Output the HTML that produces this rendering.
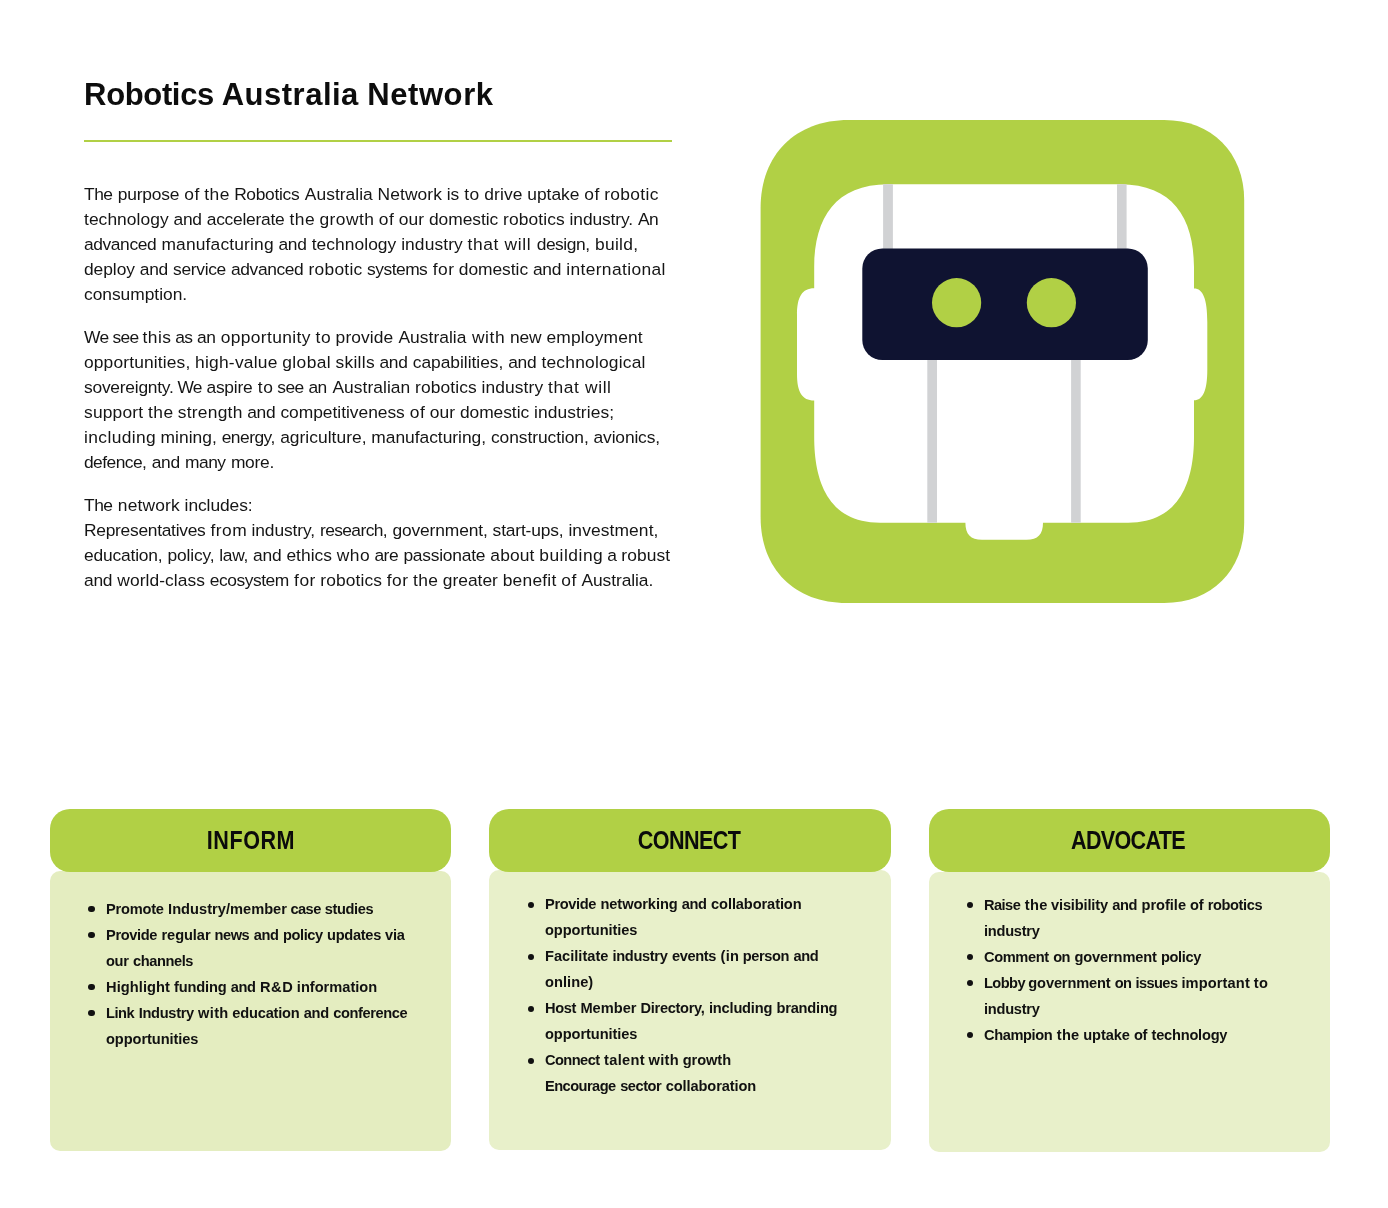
<!DOCTYPE html>
<html lang="en"><head><meta charset="utf-8"><title>Robotics Australia Network</title>
<style>
html,body{margin:0;padding:0;background:#fff}
body{width:1388px;height:1208px;position:relative;overflow:hidden;font-family:"Liberation Sans", sans-serif;color:#141414}
.l{position:absolute;white-space:nowrap;margin:0;padding:0;line-height:1;display:block;transform-origin:0 0}
h1.l{font-family:"Liberation Sans", sans-serif;font-weight:700;font-size:31px;color:#0d0d0d}
.p{font-size:17.4px;color:#151515}
.c{font-size:15.4px;font-weight:bold;color:#111}
.t{font-size:25.4px;font-weight:bold;color:#0b0b0b;text-align:center;transform-origin:50% 0}
.hd{position:absolute;height:63px;top:809px;border-radius:20px;background:#b1d045}
.bd{position:absolute;height:280px;border-radius:10px}
.b{position:absolute;width:6.2px;height:6.2px;border-radius:50%;background:#111}
ul,li{margin:0;padding:0;list-style:none}

</style></head><body>
<main style="will-change:transform">
<h1 class="l h1" id="h1" style="left:84.10px;top:78.77px"><span style="letter-spacing:-0.35px;word-spacing:-0.49px">Robotics </span><span style="letter-spacing:0.50px;word-spacing:-0.81px">Australia </span><span style="letter-spacing:0.60px">Network</span></h1>
<div style="position:absolute;left:84px;top:140px;width:588px;height:2px;background:#b1d045"></div>
<section>
<p style="margin:0">
<span class="l p" id="p0_0" style="left:84.00px;top:186.28px"><span style="letter-spacing:-0.49px;word-spacing:0.95px">The </span><span style="letter-spacing:-0.20px;word-spacing:0.40px">purpose </span><span style="letter-spacing:0.60px;word-spacing:-1.18px">of </span><span style="letter-spacing:0.45px;word-spacing:-0.94px">the </span><span style="letter-spacing:-0.31px;word-spacing:0.98px">Robotics </span><span style="letter-spacing:0.04px;word-spacing:-0.11px">Australia </span><span style="letter-spacing:0.08px;word-spacing:-0.20px">Network </span><span style="letter-spacing:-0.14px;word-spacing:0.47px">is </span><span style="letter-spacing:0.60px;word-spacing:-0.99px">to </span><span style="letter-spacing:0.14px;word-spacing:-0.33px">drive </span><span style="letter-spacing:-0.03px;word-spacing:0.06px">uptake </span><span style="letter-spacing:0.60px;word-spacing:-1.18px">of </span><span style="letter-spacing:0.33px">robotic</span></span>
<span class="l p" id="p0_1" style="left:84.00px;top:211.28px"><span style="letter-spacing:0.06px;word-spacing:-0.13px">technology </span><span style="letter-spacing:-0.28px;word-spacing:0.53px">and </span><span style="letter-spacing:-0.25px;word-spacing:0.47px">accelerate </span><span style="letter-spacing:0.46px;word-spacing:-0.94px">the </span><span style="letter-spacing:0.44px;word-spacing:-0.86px">growth </span><span style="letter-spacing:0.60px;word-spacing:-1.20px">of </span><span style="letter-spacing:0.17px;word-spacing:-0.38px">our </span><span style="letter-spacing:-0.04px;word-spacing:0.07px">domestic </span><span style="letter-spacing:0.12px;word-spacing:-0.28px">robotics </span><span style="letter-spacing:-0.13px;word-spacing:0.47px">industry. </span><span style="letter-spacing:-0.60px">An</span></span>
<span class="l p" id="p0_2" style="left:84.00px;top:236.28px"><span style="letter-spacing:-0.40px;word-spacing:0.78px">advanced </span><span style="letter-spacing:0.16px;word-spacing:-0.34px">manufacturing </span><span style="letter-spacing:-0.28px;word-spacing:0.53px">and </span><span style="letter-spacing:0.06px;word-spacing:-0.13px">technology </span><span style="letter-spacing:0.10px;word-spacing:-0.15px">industry </span><span style="letter-spacing:0.60px;word-spacing:0.16px">that </span><span style="letter-spacing:0.60px;word-spacing:0.08px">will </span><span style="letter-spacing:-0.45px;word-spacing:0.88px">design, </span><span style="letter-spacing:0.33px">build,</span></span>
<span class="l p" id="p0_3" style="left:84.00px;top:261.28px"><span style="letter-spacing:-0.05px;word-spacing:0.08px">deploy </span><span style="letter-spacing:-0.28px;word-spacing:0.53px">and </span><span style="letter-spacing:-0.32px;word-spacing:0.60px">service </span><span style="letter-spacing:-0.40px;word-spacing:0.78px">advanced </span><span style="letter-spacing:0.26px;word-spacing:-0.55px">robotic </span><span style="letter-spacing:-0.50px;word-spacing:0.96px">systems </span><span style="letter-spacing:0.51px;word-spacing:-1.03px">for </span><span style="letter-spacing:-0.04px;word-spacing:0.06px">domestic </span><span style="letter-spacing:-0.27px;word-spacing:0.52px">and </span><span style="letter-spacing:0.37px">international</span></span>
<span class="l p" id="p0_4" style="left:84.00px;top:286.28px"><span style="letter-spacing:-0.03px">consumption.</span></span>
</p>
<p style="margin:0">
<span class="l p" id="p1_0" style="left:84.00px;top:329.28px"><span style="letter-spacing:-0.60px;word-spacing:-0.41px">We </span><span style="letter-spacing:-0.60px;word-spacing:-0.29px">see </span><span style="letter-spacing:0.43px;word-spacing:-1.51px">this </span><span style="letter-spacing:-0.60px;word-spacing:0.55px">as </span><span style="letter-spacing:-0.56px;word-spacing:1.09px">an </span><span style="letter-spacing:0.37px;word-spacing:-0.53px">opportunity </span><span style="letter-spacing:0.60px;word-spacing:-1.02px">to </span><span style="letter-spacing:0.10px;word-spacing:0.16px">provide </span><span style="letter-spacing:0.04px;word-spacing:0.53px">Australia </span><span style="letter-spacing:0.60px;word-spacing:-0.59px">with </span><span style="letter-spacing:-0.15px;word-spacing:0.25px">new </span><span style="letter-spacing:0.17px">employment</span></span>
<span class="l p" id="p1_1" style="left:84.00px;top:354.28px"><span style="letter-spacing:0.14px;word-spacing:-0.29px">opportunities, </span><span style="letter-spacing:0.23px;word-spacing:-0.48px">high-value </span><span style="letter-spacing:0.41px;word-spacing:-0.83px">global </span><span style="letter-spacing:0.29px;word-spacing:-0.59px">skills </span><span style="letter-spacing:-0.28px;word-spacing:0.53px">and </span><span style="letter-spacing:-0.02px;word-spacing:0.01px">capabilities, </span><span style="letter-spacing:-0.27px;word-spacing:0.50px">and </span><span style="letter-spacing:0.21px">technological</span></span>
<span class="l p" id="p1_2" style="left:84.00px;top:379.28px"><span style="letter-spacing:-0.24px;word-spacing:-0.82px">sovereignty. </span><span style="letter-spacing:-0.60px;word-spacing:0.22px">We </span><span style="letter-spacing:-0.20px;word-spacing:0.60px">aspire </span><span style="letter-spacing:0.60px;word-spacing:-1.59px">to </span><span style="letter-spacing:-0.60px;word-spacing:0.59px">see </span><span style="letter-spacing:-0.56px;word-spacing:1.48px">an </span><span style="letter-spacing:0.05px;word-spacing:-0.15px">Australian </span><span style="letter-spacing:0.12px;word-spacing:-0.28px">robotics </span><span style="letter-spacing:0.10px;word-spacing:-0.13px">industry </span><span style="letter-spacing:0.60px;word-spacing:0.16px">that </span><span style="letter-spacing:0.60px">will</span></span>
<span class="l p" id="p1_3" style="left:84.00px;top:404.28px"><span style="letter-spacing:0.19px;word-spacing:-0.40px">support </span><span style="letter-spacing:0.46px;word-spacing:-0.97px">the </span><span style="letter-spacing:0.23px;word-spacing:-0.47px">strength </span><span style="letter-spacing:-0.28px;word-spacing:0.52px">and </span><span style="letter-spacing:-0.02px;word-spacing:0.05px">competitiveness </span><span style="letter-spacing:0.60px;word-spacing:-1.18px">of </span><span style="letter-spacing:0.16px;word-spacing:-0.36px">our </span><span style="letter-spacing:-0.04px;word-spacing:0.07px">domestic </span><span style="letter-spacing:0.07px">industries;</span></span>
<span class="l p" id="p1_4" style="left:84.00px;top:429.28px"><span style="letter-spacing:0.39px;word-spacing:-0.79px">including </span><span style="letter-spacing:0.03px;word-spacing:-0.08px">mining, </span><span style="letter-spacing:-0.51px;word-spacing:0.99px">energy, </span><span style="letter-spacing:0.03px;word-spacing:-0.07px">agriculture, </span><span style="letter-spacing:-0.02px;word-spacing:0.01px">manufacturing, </span><span style="letter-spacing:-0.06px;word-spacing:0.10px">construction, </span><span style="letter-spacing:-0.15px">avionics,</span></span>
<span class="l p" id="p1_5" style="left:84.00px;top:454.28px"><span style="letter-spacing:-0.55px;word-spacing:1.07px">defence, </span><span style="letter-spacing:-0.28px;word-spacing:0.55px">and </span><span style="letter-spacing:-0.47px;word-spacing:0.92px">many </span><span style="letter-spacing:-0.27px">more.</span></span>
</p>
<p style="margin:0">
<span class="l p" id="p2_0" style="left:84.00px;top:497.28px"><span style="letter-spacing:-0.49px;word-spacing:0.95px">The </span><span style="letter-spacing:0.18px;word-spacing:-0.38px">network </span><span style="letter-spacing:-0.07px">includes:</span></span>
<span class="l p" id="p2_1" style="left:84.00px;top:522.28px"><span style="letter-spacing:-0.28px;word-spacing:0.55px">Representatives </span><span style="letter-spacing:0.45px;word-spacing:-0.94px">from </span><span style="letter-spacing:-0.10px;word-spacing:0.15px">industry, </span><span style="letter-spacing:-0.60px;word-spacing:1.16px">research, </span><span style="letter-spacing:-0.13px;word-spacing:0.24px">government, </span><span style="letter-spacing:-0.17px;word-spacing:0.33px">start-ups, </span><span style="letter-spacing:0.11px">investment,</span></span>
<span class="l p" id="p2_2" style="left:84.00px;top:547.28px"><span style="letter-spacing:-0.18px;word-spacing:0.33px">education, </span><span style="letter-spacing:-0.15px;word-spacing:0.27px">policy, </span><span style="letter-spacing:-0.34px;word-spacing:0.65px">law, </span><span style="letter-spacing:-0.27px;word-spacing:0.50px">and </span><span style="letter-spacing:0.04px;word-spacing:-0.09px">ethics </span><span style="letter-spacing:0.41px;word-spacing:-0.83px">who </span><span style="letter-spacing:-0.48px;word-spacing:0.94px">are </span><span style="letter-spacing:-0.22px;word-spacing:0.43px">passionate </span><span style="letter-spacing:0.14px;word-spacing:-0.30px">about </span><span style="letter-spacing:0.51px;word-spacing:-1.41px">building </span><span style="letter-spacing:0.00px;word-spacing:-0.41px">a </span><span style="letter-spacing:0.11px">robust</span></span>
<span class="l p" id="p2_3" style="left:84.00px;top:572.28px"><span style="letter-spacing:-0.27px;word-spacing:0.50px">and </span><span style="letter-spacing:0.07px;word-spacing:-0.17px">world-class </span><span style="letter-spacing:-0.45px;word-spacing:0.85px">ecosystem </span><span style="letter-spacing:0.52px;word-spacing:-1.06px">for </span><span style="letter-spacing:0.12px;word-spacing:-0.26px">robotics </span><span style="letter-spacing:0.51px;word-spacing:-1.05px">for </span><span style="letter-spacing:0.46px;word-spacing:-0.95px">the </span><span style="letter-spacing:-0.01px;word-spacing:-0.01px">greater </span><span style="letter-spacing:0.24px;word-spacing:-0.47px">benefit </span><span style="letter-spacing:0.60px;word-spacing:-0.80px">of </span><span style="letter-spacing:-0.08px">Australia.</span></span>
</p>
</section>
<svg style="position:absolute;left:750px;top:110px" width="510" height="510" viewBox="750 110 510 510" role="img" aria-label="Robotics Australia Network logo">
<path fill="#b1d045" d="M760.6,208.1 C760.6,154.8 795.3,120.1 848.6,120.1 H1164.2 C1211.6,120.1 1244.2,152.7 1244.2,200.1 V523.0 C1244.2,570.4 1211.6,603.0 1164.2,603.0 H846.6 C794.5,603.0 760.6,569.1 760.6,517.0 Z"/>
<path fill="#fff" d="M888,184.2 L1120.2,184.2 C1172,184.2 1194,217.3 1194,267 L1194,288.5 C1203,288.5 1207.3,299 1207.3,322 L1207.3,370 C1207.3,390 1203,400.3 1194,400.3 L1194,437 C1194,479.85 1180.8,522.7 1128.2,522.7 L1043,522.7 C1043,534 1038,539.8 1026.5,539.8 L982,539.8 C970.5,539.8 965.4,534 965.4,522.7 L880,522.7 C827.4,522.7 814.2,479.85 814.2,437 L814.2,400.5 C802,400.5 797,392 797,374 L797,315 C797,297 802,288.2 814.2,288.2 L814.2,267 C814.2,217.3 836.2,184.2 888,184.2 Z"/>
<g fill="#d1d2d4">
<rect x="883.1" y="184.2" width="9.8" height="66"/>
<rect x="1117" y="184.2" width="9.6" height="66"/>
<rect x="927.3" y="358" width="9.7" height="164.7"/>
<rect x="1071.1" y="358" width="9.6" height="164.7"/>
</g>
<rect x="862.3" y="248.4" width="285.5" height="111.7" rx="20" ry="20" fill="#0f1331"/>
<circle cx="956.6" cy="302.7" r="24.6" fill="#b1d045"/>
<circle cx="1051.4" cy="302.7" r="24.6" fill="#b1d045"/>
</svg>

<section>
<div class="bd" style="left:50px;width:401px;top:871px;background:#e4edc0"></div>
<div class="hd" style="left:50px;width:401px"></div>
<h2 class="l t" id="t0" style="letter-spacing:0.618px;transform:scaleX(0.8500);left:50.50px;width:400px;top:828.21px">INFORM</h2>
<ul>
<li><i class="b" style="left:88.45px;top:905.80px"></i>
<span class="l c" id="c0_0" style="transform:scaleX(0.9500);left:105.70px;top:900.97px"><span style="letter-spacing:-0.23px;word-spacing:0.45px">Promote </span><span style="letter-spacing:0.02px;word-spacing:-0.61px">Industry/member </span><span style="letter-spacing:-0.60px;word-spacing:0.62px">case </span><span style="letter-spacing:-0.43px">studies</span></span>
</li>
<li><i class="b" style="left:88.45px;top:931.80px"></i>
<span class="l c" id="c0_1" style="transform:scaleX(0.9500);left:105.70px;top:926.97px"><span style="letter-spacing:-0.39px;word-spacing:0.76px">Provide </span><span style="letter-spacing:-0.08px;word-spacing:0.14px">regular </span><span style="letter-spacing:-0.53px;word-spacing:1.05px">news </span><span style="letter-spacing:-0.37px;word-spacing:0.72px">and </span><span style="letter-spacing:-0.48px;word-spacing:0.94px">policy </span><span style="letter-spacing:-0.33px;word-spacing:0.30px">updates </span><span style="letter-spacing:-0.23px">via</span></span>
<span class="l c" id="c0_2" style="transform:scaleX(0.9500);left:105.70px;top:952.97px"><span style="letter-spacing:-0.38px;word-spacing:0.75px">our </span><span style="letter-spacing:-0.42px">channels</span></span>
</li>
<li><i class="b" style="left:88.45px;top:983.80px"></i>
<span class="l c" id="c0_3" style="transform:scaleX(0.9500);left:105.70px;top:978.97px"><span style="letter-spacing:0.07px;word-spacing:-0.15px">Highlight </span><span style="letter-spacing:-0.16px;word-spacing:0.31px">funding </span><span style="letter-spacing:-0.38px;word-spacing:0.76px">and </span><span style="letter-spacing:0.59px;word-spacing:-1.19px">R&amp;D </span><span style="letter-spacing:-0.01px">information</span></span>
</li>
<li><i class="b" style="left:88.45px;top:1009.80px"></i>
<span class="l c" id="c0_4" style="transform:scaleX(0.9500);left:105.70px;top:1004.97px"><span style="letter-spacing:-0.50px;word-spacing:1.00px">Link </span><span style="letter-spacing:-0.32px;word-spacing:0.43px">Industry </span><span style="letter-spacing:0.32px;word-spacing:-0.65px">with </span><span style="letter-spacing:-0.21px;word-spacing:0.40px">education </span><span style="letter-spacing:-0.37px;word-spacing:0.72px">and </span><span style="letter-spacing:-0.42px">conference</span></span>
<span class="l c" id="c0_5" style="transform:scaleX(0.9500);left:105.70px;top:1030.97px"><span style="letter-spacing:-0.08px">opportunities</span></span>
</li></ul>
<div class="bd" style="left:489px;width:402px;top:870px;background:#e8f0ca"></div>
<div class="hd" style="left:489px;width:402px"></div>
<h2 class="l t" id="t1" style="letter-spacing:-0.706px;transform:scaleX(0.8500);left:489.32px;width:400px;top:828.21px">CONNECT</h2>
<ul>
<li><i class="b" style="left:527.85px;top:901.50px"></i>
<span class="l c" id="c1_0" style="transform:scaleX(0.9500);left:544.90px;top:896.27px"><span style="letter-spacing:-0.39px;word-spacing:0.76px">Provide </span><span style="letter-spacing:-0.09px;word-spacing:0.17px">networking </span><span style="letter-spacing:-0.38px;word-spacing:0.76px">and </span><span style="letter-spacing:-0.11px">collaboration</span></span>
<span class="l c" id="c1_1" style="transform:scaleX(0.9500);left:544.90px;top:922.27px"><span style="letter-spacing:-0.08px">opportunities</span></span>
</li>
<li><i class="b" style="left:527.85px;top:953.50px"></i>
<span class="l c" id="c1_2" style="transform:scaleX(0.9500);left:544.90px;top:948.27px"><span style="letter-spacing:0.01px;word-spacing:-0.04px">Facilitate </span><span style="letter-spacing:-0.36px;word-spacing:0.72px">industry </span><span style="letter-spacing:-0.36px;word-spacing:0.70px">events </span><span style="letter-spacing:0.21px;word-spacing:-0.44px">(in </span><span style="letter-spacing:-0.48px;word-spacing:0.94px">person </span><span style="letter-spacing:-0.37px">and</span></span>
<span class="l c" id="c1_3" style="transform:scaleX(0.9500);left:544.90px;top:974.27px"><span style="letter-spacing:0.05px">online)</span></span>
</li>
<li><i class="b" style="left:527.85px;top:1005.50px"></i>
<span class="l c" id="c1_4" style="transform:scaleX(0.9500);left:544.90px;top:1000.27px"><span style="letter-spacing:-0.40px;word-spacing:0.77px">Host </span><span style="letter-spacing:0.01px;word-spacing:-0.05px">Member </span><span style="letter-spacing:-0.33px;word-spacing:0.65px">Directory, </span><span style="letter-spacing:-0.20px;word-spacing:0.38px">including </span><span style="letter-spacing:-0.22px">branding</span></span>
<span class="l c" id="c1_5" style="transform:scaleX(0.9500);left:544.90px;top:1026.27px"><span style="letter-spacing:-0.08px">opportunities</span></span>
</li>
<li><i class="b" style="left:527.85px;top:1057.50px"></i>
<span class="l c" id="c1_6" style="transform:scaleX(0.9500);left:544.90px;top:1052.27px"><span style="letter-spacing:-0.60px;word-spacing:1.08px">Connect </span><span style="letter-spacing:0.35px;word-spacing:-0.94px">talent </span><span style="letter-spacing:0.32px;word-spacing:-0.66px">with </span><span style="letter-spacing:-0.08px">growth</span></span>
<span class="l c" id="c1_7" style="transform:scaleX(0.9500);left:544.90px;top:1078.27px"><span style="letter-spacing:-0.58px;word-spacing:1.13px">Encourage </span><span style="letter-spacing:-0.51px;word-spacing:1.00px">sector </span><span style="letter-spacing:-0.11px">collaboration</span></span>
</li></ul>
<div class="bd" style="left:929px;width:401px;top:872px;background:#e8f0ca"></div>
<div class="hd" style="left:929px;width:401px"></div>
<h2 class="l t" id="t2" style="letter-spacing:-0.819px;transform:scaleX(0.8500);left:928.38px;width:400px;top:828.21px">ADVOCATE</h2>
<ul>
<li><i class="b" style="left:967.30px;top:901.80px"></i>
<span class="l c" id="c2_0" style="transform:scaleX(0.9500);left:983.80px;top:896.97px"><span style="letter-spacing:-0.59px;word-spacing:1.17px">Raise </span><span style="letter-spacing:0.26px;word-spacing:-0.88px">the </span><span style="letter-spacing:-0.16px;word-spacing:0.29px">visibility </span><span style="letter-spacing:-0.37px;word-spacing:0.72px">and </span><span style="letter-spacing:-0.03px;word-spacing:0.05px">profile </span><span style="letter-spacing:-0.29px;word-spacing:0.55px">of </span><span style="letter-spacing:-0.41px">robotics</span></span>
<span class="l c" id="c2_1" style="transform:scaleX(0.9500);left:983.80px;top:922.97px"><span style="letter-spacing:-0.27px">industry</span></span>
</li>
<li><i class="b" style="left:967.30px;top:953.80px"></i>
<span class="l c" id="c2_2" style="transform:scaleX(0.9500);left:983.80px;top:948.97px"><span style="letter-spacing:-0.40px;word-spacing:0.79px">Comment </span><span style="letter-spacing:-0.59px;word-spacing:1.17px">on </span><span style="letter-spacing:-0.16px;word-spacing:0.32px">government </span><span style="letter-spacing:-0.36px">policy</span></span>
</li>
<li><i class="b" style="left:967.30px;top:979.80px"></i>
<span class="l c" id="c2_3" style="transform:scaleX(0.9500);left:983.80px;top:974.97px"><span style="letter-spacing:-0.60px;word-spacing:-0.18px">Lobby </span><span style="letter-spacing:-0.16px;word-spacing:0.32px">government </span><span style="letter-spacing:-0.59px;word-spacing:0.45px">on </span><span style="letter-spacing:-0.60px;word-spacing:0.47px">issues </span><span style="letter-spacing:0.12px;word-spacing:-0.25px">important </span><span style="letter-spacing:0.31px">to</span></span>
<span class="l c" id="c2_4" style="transform:scaleX(0.9500);left:983.80px;top:1000.97px"><span style="letter-spacing:-0.27px">industry</span></span>
</li>
<li><i class="b" style="left:967.30px;top:1031.80px"></i>
<span class="l c" id="c2_5" style="transform:scaleX(0.9500);left:983.80px;top:1026.97px"><span style="letter-spacing:-0.41px;word-spacing:0.80px">Champion </span><span style="letter-spacing:0.26px;word-spacing:-0.55px">the </span><span style="letter-spacing:-0.12px;word-spacing:0.21px">uptake </span><span style="letter-spacing:-0.27px;word-spacing:0.53px">of </span><span style="letter-spacing:-0.23px">technology</span></span>
</li></ul>
</section></main>
</body></html>
